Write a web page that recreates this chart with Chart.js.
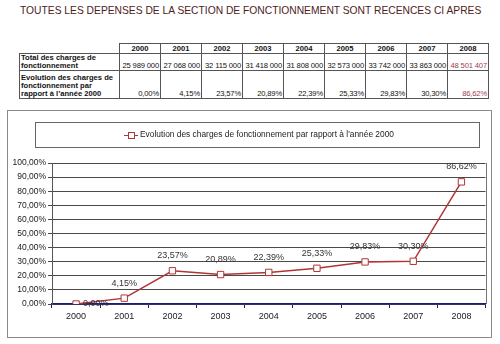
<!DOCTYPE html>
<html>
<head>
<meta charset="utf-8">
<script src="https://cdn.jsdelivr.net/npm/chart.js@4"></script>
<style>
  body { margin: 0; background: #fff; font-family: Arial, "Liberation Sans", sans-serif; }
  #page { position: relative; width: 500px; height: 344px; overflow: hidden; }
  #title {
    position: absolute; left: 20px; top: 4px; white-space: nowrap;
    font-size: 11.5px; color: #4d2222; transform-origin: left top;
  }
  #tbl {
    position: absolute; left: 19px; top: 43px; border-collapse: collapse;
    font-size: 7.6px; color: #111;
  }
  #tbl td { border: 1px solid #555; padding: 0 1px; height: 9px; line-height: 8px; }
  #tbl td.lab { width: 97px; font-weight: bold; text-align: left; vertical-align: bottom; }
  #tbl td.yr { width: 38px; font-weight: bold; text-align: center; }
  #tbl td.num { text-align: right; vertical-align: bottom; white-space: nowrap; letter-spacing: -0.15px; }
  #tbl td.last { color: #a0404f; }
  #tbl td.blank { border: none; }
  #frame {
    position: absolute; left: 7px; top: 110px; width: 483px; height: 226px;
    border: 1px solid #8a8a8a;
  }
  #chart { display: block; }
</style>
</head>
<body>
<div id="page">
  <div id="title">TOUTES LES DEPENSES DE LA SECTION DE FONCTIONNEMENT SONT RECENCES CI APRES</div>
  <table id="tbl"></table>
  <div id="frame"><canvas id="chart" width="483" height="226"></canvas></div>
</div>
<script>
// Data
const years = ["2000", "2001", "2002", "2003", "2004", "2005", "2006", "2007", "2008"];
const totalCharges = ["25 989 000", "27 068 000", "32 115 000", "31 418 000", "31 808 000",
                      "32 573 000", "33 742 000", "33 863 000", "48 501 407"];
const evolution = [0, 4.15, 23.57, 20.89, 22.39, 25.33, 29.83, 30.30, 86.62];
const yTicks = [0, 10, 20, 30, 40, 50, 60, 70, 80, 90, 100];
const rowLabels = ["Total des charges de fonctionnement",
                   "Evolution des charges de fonctionnement par rapport à l'année 2000"];
const seriesLabel = "Evolution des charges de fonctionnement par rapport à l'année 2000";

// French percent format: 23,57%
function pct(v) {
  return v.toFixed(2).replace(".", ",") + "%";
}

// fit the title to its width
const title = document.getElementById("title");
title.style.transform = "scaleX(" + (461 / title.scrollWidth) + ")";

// build the table
function buildTable() {
  const tbl = document.getElementById("tbl");
  let html = '<tr><td class="blank"></td>';
  years.forEach(y => { html += '<td class="yr">' + y + '</td>'; });
  html += '</tr><tr style="height:16px"><td class="lab">Total des charges de<br>fonctionnement</td>';
  totalCharges.forEach((v, i) => {
    html += '<td class="num' + (i === totalCharges.length - 1 ? ' last' : '') + '">' + v + '</td>';
  });
  html += '</tr><tr style="height:28px"><td class="lab">Evolution des charges de<br>fonctionnement par<br>rapport à l’année 2000</td>';
  evolution.forEach((v, i) => {
    html += '<td class="num' + (i === evolution.length - 1 ? ' last' : '') + '">' + pct(v) + '</td>';
  });
  html += '</tr>';
  tbl.innerHTML = html;
}
buildTable();

const lineColor = "#b03535";

// legend box, data labels and plot border
const extras = {
  id: "extras",
  afterDraw(chart) {
    const ctx = chart.ctx;
    const area = chart.chartArea;
    ctx.save();

    // right border of plot area
    ctx.strokeStyle = "#777";
    ctx.lineWidth = 1;
    ctx.beginPath();
    ctx.moveTo(Math.round(area.right) + 0.5, area.top);
    ctx.lineTo(Math.round(area.right) + 0.5, area.bottom);
    ctx.stroke();

    // legend box
    ctx.strokeStyle = "#666";
    ctx.strokeRect(27.5, 11.5, 444, 25);
    ctx.font = "8.5px Arial, 'Liberation Sans'";
    const label = chart.data.datasets[0].label;
    const tw = ctx.measureText(label).width;
    const textW = 254;
    const startX = 116;
    const cy = 24;
    ctx.strokeStyle = lineColor;
    ctx.beginPath();
    ctx.moveTo(startX, cy + 0.5);
    ctx.lineTo(startX + 14, cy + 0.5);
    ctx.stroke();
    ctx.fillStyle = "#fff";
    ctx.fillRect(startX + 4, cy - 3, 6, 6);
    ctx.strokeRect(startX + 4.5, cy - 2.5, 6, 6);
    ctx.fillStyle = "#222";
    ctx.textBaseline = "middle";
    ctx.textAlign = "left";
    ctx.save();
    ctx.translate(startX + 16, cy);
    ctx.scale(textW / tw, 1);
    ctx.fillText(label, 0, 0);
    ctx.restore();

    // point value labels
    const meta = chart.getDatasetMeta(0);
    ctx.font = "9px Arial, 'Liberation Sans'";
    ctx.fillStyle = "#333";
    meta.data.forEach((pt, i) => {
      const v = chart.data.datasets[0].data[i];
      if (i === 0) {
        ctx.textAlign = "left";
        ctx.fillText(pct(v), pt.x + 7, pt.y);
      } else {
        ctx.textAlign = "center";
        ctx.fillText(pct(v), pt.x, pt.y - 15);
      }
    });
    ctx.restore();
  }
};

function renderChart() {
  const ctx = document.getElementById("chart").getContext("2d");
  new Chart(ctx, {
    type: "line",
    data: {
      labels: years,
      datasets: [{
        label: seriesLabel,
        data: evolution,
        borderColor: lineColor,
        borderWidth: 1.5,
        backgroundColor: "#fff",
        pointStyle: "rect",
        pointRadius: 4.5,
        pointBorderWidth: 1,
        pointBorderColor: lineColor,
        pointBackgroundColor: "#fff",
        tension: 0
      }]
    },
    options: {
      responsive: false,
      animation: false,
      events: [],
      layout: { padding: { top: 52, left: 0, right: 4, bottom: 0 } },
      plugins: {
        legend: { display: false },
        tooltip: { enabled: false }
      },
      scales: {
        x: {
          offset: true,
          afterFit(scale) { scale.height = 33; },
          border: { color: "#1a1a80", width: 1.5 },
          grid: {
            offset: true,
            drawOnChartArea: false,
            color: "#1a1a80",
            tickLength: 4
          },
          ticks: {
            color: "#222",
            font: { size: 9, family: "Arial, 'Liberation Sans'" },
            padding: 3
          }
        },
        y: {
          min: yTicks[0],
          max: yTicks[yTicks.length - 1],
          afterFit(scale) { scale.width = 44; },
          afterBuildTicks(scale) { scale.ticks = yTicks.map(v => ({ value: v })); },
          border: { color: "#555" },
          grid: { color: "#4a4a4a", tickLength: 4 },
          ticks: {
            color: "#222",
            font: { size: 8.5, family: "Arial, 'Liberation Sans'" },
            padding: 2,
            callback: v => pct(v)
          }
        }
      }
    },
    plugins: [extras]
  });
}

document.addEventListener("DOMContentLoaded", renderChart);
</script>
</body>
</html>
